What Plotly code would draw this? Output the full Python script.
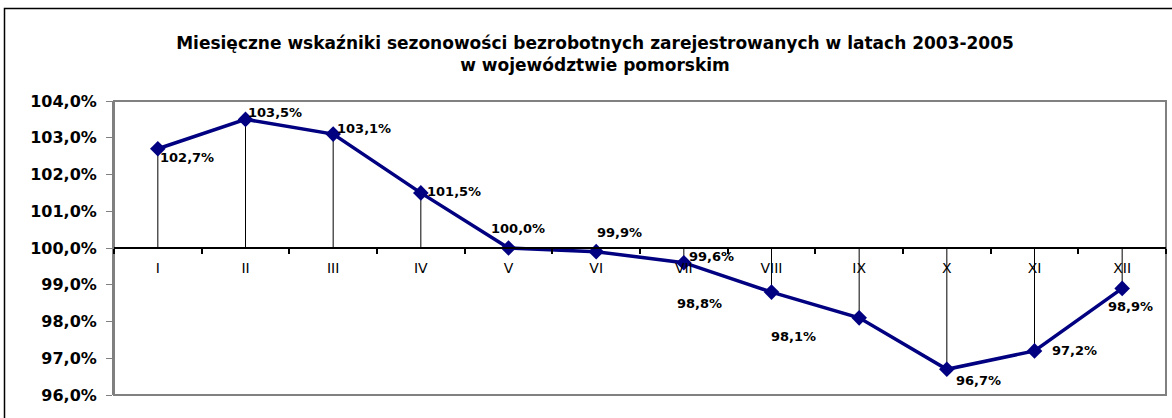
import plotly.graph_objects as go

months = ["I", "II", "III", "IV", "V", "VI", "VII", "VIII", "IX", "X", "XI", "XII"]
values = [102.7, 103.5, 103.1, 101.5, 100.0, 99.9, 99.6, 98.8, 98.1, 96.7, 97.2, 98.9]
labels = ["102,7%", "103,5%", "103,1%", "101,5%", "100,0%", "99,9%",
          "99,6%", "98,8%", "98,1%", "96,7%", "97,2%", "98,9%"]
y_ticks = [96, 97, 98, 99, 100, 101, 102, 103, 104]
y_tick_text = ["96,0%", "97,0%", "98,0%", "99,0%", "100,0%", "101,0%", "102,0%", "103,0%", "104,0%"]
baseline = 100.0

title = ("<b>Miesięczne wskaźniki sezonowości bezrobotnych zarejestrowanych w latach 2003-2005"
         "<br>w województwie pomorskim</b>")

BOLD = "DejaVu Sans"

# label placement (anchor, xshift, yshift) per point
label_pos = [("left", 0, -9), ("left", 0, 7), ("left", 2, 6), ("left", 4, 1),
             ("center", 9, 20), ("left", -1, 19), ("left", 3, 6), ("right", -48, -11),
             ("right", -41, -19), ("left", 7, -11), ("left", 15, 0), ("left", -16, -18)]

up = [max(baseline - v, 0) for v in values]
down = [max(v - baseline, 0) for v in values]

fig = go.Figure()
fig.add_trace(go.Scatter(
    x=months, y=values, mode="lines+markers",
    line=dict(color="#000080", width=3.5),
    marker=dict(symbol="diamond", size=12, color="#000080"),
    error_y=dict(type="data", symmetric=False, array=up, arrayminus=down,
                 color="black", thickness=1, width=0),
    showlegend=False, hoverinfo="skip",
))

for m, v, t, (anc, xs, ys) in zip(months, values, labels, label_pos):
    fig.add_annotation(x=m, y=v, text="<b>%s</b>" % t, showarrow=False,
                       xanchor=anc, yanchor="middle", xshift=xs, yshift=ys,
                       font=dict(size=13, color="black", family=BOLD))

# outer chart border
fig.add_shape(type="rect", xref="paper", yref="paper",
              x0=(4.5 - 114) / 1052, x1=1.1, y0=-0.2, y1=1 + (101 - 8.5) / 294,
              line=dict(color="black", width=1.5), layer="below")
# plot area border
fig.add_shape(type="rect", xref="paper", yref="paper", x0=0, x1=1, y0=0, y1=1,
              line=dict(color="#808080", width=2), layer="below")

fig.update_layout(
    width=1172, height=418,
    margin=dict(l=114, r=6, t=101, b=23),
    paper_bgcolor="white", plot_bgcolor="white",
    font=dict(family="DejaVu Sans", color="black"),
    title=dict(text=title, x=595 / 1172, xanchor="center", y=1 - 49 / 418, yanchor="top",
               font=dict(size=17, color="black", family=BOLD)),
    xaxis=dict(
        type="category", anchor="free", position=0.5,
        showline=True, linecolor="black", linewidth=2,
        ticks="outside", tickson="boundaries", ticklen=5, tickcolor="black", tickwidth=2,
        showgrid=False, zeroline=False,
        tickfont=dict(size=14, color="black", family="DejaVu Sans"),
        ticklabelstandoff=7,
        range=[-0.5, 11.5],
    ),
    yaxis=dict(
        range=[96, 104], tickmode="array", tickvals=y_ticks, ticktext=y_tick_text,
        showline=True, linecolor="#808080", linewidth=2,
        ticks="outside", ticklen=6, tickcolor="#808080", tickwidth=1,
        showgrid=False, zeroline=False,
        ticklabelstandoff=6,
        tickfont=dict(size=16, color="black", family=BOLD, weight="bold"),
    ),
)

fig.write_html("out.html", config={"displayModeBar": False},
               post_script="document.body.style.margin='0';")
